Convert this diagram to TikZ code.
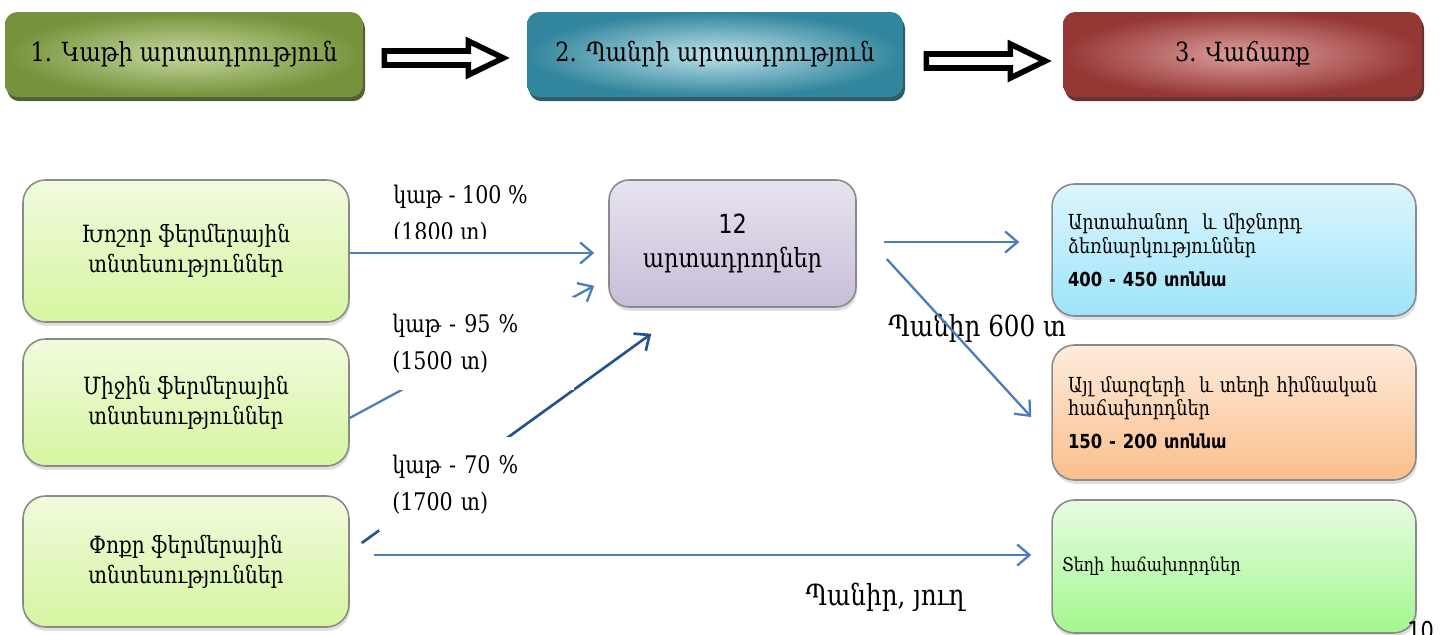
\documentclass[tikz,border=0pt]{standalone}
\usepackage{fontspec}
\setmainfont{DejaVu Serif}[FakeStretch=0.85]
\newfontfamily\armsans{DejaVu Sans}[FakeStretch=0.85]
\usetikzlibrary{arrows.meta,shadows,calc}
\definecolor{arrowblue}{HTML}{4A7EBB}
\definecolor{darkarrow}{HTML}{23528F}
\definecolor{oneout}{HTML}{76923C}
\definecolor{onein}{HTML}{C6D99D}
\definecolor{twoout}{HTML}{31859C}
\definecolor{twoin}{HTML}{BFE3EC}
\definecolor{threeout}{HTML}{953735}
\definecolor{threein}{HTML}{DE9F9D}
\definecolor{farmtop}{HTML}{F1FBDD}
\definecolor{farmbot}{HTML}{D6F5A0}
\definecolor{ctrtop}{HTML}{E7E3EE}
\definecolor{ctrbot}{HTML}{C8BDD9}
\definecolor{rbtop}{HTML}{DDF6FE}
\definecolor{rbbot}{HTML}{9DE3F9}
\definecolor{rotop}{HTML}{FDECDD}
\definecolor{robot}{HTML}{FBBE8A}
\definecolor{rgtop}{HTML}{E8FCE2}
\definecolor{rgbot}{HTML}{A2F78D}
\definecolor{boxline}{HTML}{8A8A8A}
\begin{document}
\begin{tikzpicture}[x=0.02cm,y=-0.02cm,
  topbox/.style={rounded corners=7pt, minimum height=1.7cm, shading=radial,
    inner color=#1in, outer color=#1out,
    drop shadow={shadow xshift=1.2pt,shadow yshift=-2.4pt,fill=#1out!55!black,opacity=0.9},
    font=\fontsize{15}{17}\selectfont, inner sep=0pt},
  hollowarrow/.style={draw=black, fill=white, line width=3.2pt, line join=miter},
  farmbox/.style={draw=boxline, line width=0.9pt, rounded corners=0.45cm,
    top color=farmtop, bottom color=farmbot, minimum width=6.52cm, align=center,
    font=\fontsize{13.5}{17}\selectfont,
    drop shadow={shadow xshift=0.6pt,shadow yshift=-2.2pt,opacity=0.25}},
  ctrbox/.style={draw=boxline, line width=0.9pt, rounded corners=0.4cm,
    top color=ctrtop, bottom color=ctrbot, minimum width=4.94cm, minimum height=2.54cm,
    align=center, font=\fontsize{15}{19}\selectfont,
    drop shadow={shadow xshift=0.6pt,shadow yshift=-2.2pt,opacity=0.25}},
  rbox/.style={draw=boxline, line width=0.9pt, rounded corners=0.45cm,
    minimum width=7.28cm, text width=6.64cm, align=left, inner xsep=0.32cm,
    font=\fontsize{11.8}{13.6}\selectfont,
    drop shadow={shadow xshift=0.6pt,shadow yshift=-2.2pt,opacity=0.25}},
  flow/.style={draw=arrowblue, line width=1.3pt, -{Straight Barb[length=7pt,width=12pt,line width=1.3pt]}},
  darkflow/.style={draw=darkarrow, line width=1.5pt, -{Straight Barb[length=7pt,width=12pt,line width=1.5pt]}},
  lbl/.style={font=\fontsize{13.8}{21}\selectfont, align=left, inner sep=0pt},
  bigl/.style={font=\fontsize{16.5}{19}\selectfont, inner sep=0pt}
]
\useasboundingbox (0,0) rectangle (1444,635);

% top row
\node[topbox=one, minimum width=7.16cm] (t1) at (184,54.5) {1. Կաթի արտադրություն};
\node[topbox=two, minimum width=7.52cm] (t2) at (715,54.5) {2. Պանրի արտադրություն};
\node[topbox=three, minimum width=7.18cm] (t3) at (1242.5,54.5) {3. Վաճառք};

\draw[hollowarrow] (t1.east) ++(21,-3.5) -- ++(84,0) -- ++(0,-10) -- ++(35,17) -- ++(-35,17) -- ++(0,-10) -- ++(-84,0) -- cycle;
\draw[hollowarrow] (t2.east) ++(23,-0.5) -- ++(84,0) -- ++(0,-10) -- ++(35,17) -- ++(-35,17) -- ++(0,-10) -- ++(-84,0) -- cycle;

% farm boxes
\node[farmbox, minimum height=2.84cm] (fa) at (186,251) {Խոշոր ֆերմերային\\տնտեսություններ};
\node[farmbox, minimum height=2.54cm] (fb) at (186,402.5) {Միջին ֆերմերային\\տնտեսություններ};
\node[farmbox, minimum height=2.62cm] (fc) at (186,561.5) {Փոքր ֆերմերային\\տնտեսություններ};

% centre
\node[ctrbox] (ctr) at (732.5,243.5) {{\armsans 12}\\արտադրողներ};

% right boxes
\node[rbox, top color=rbtop, bottom color=rbbot, minimum height=2.64cm] (r1) at (1234,250)
  {Արտահանող\ \ և միջնորդ\\ձեռնարկություններ\\[5pt]{\armsans\bfseries\fontsize{11}{13}\selectfont 400 - 450 տոննա}};
\node[rbox, top color=rotop, bottom color=robot, minimum height=2.7cm] (r2) at (1234,412.5)
  {Այլ մարզերի\ \ և տեղի հիմնական\\հաճախորդներ\\[5pt]{\armsans\bfseries\fontsize{11}{13}\selectfont 150 - 200 տոննա}};
\node[rbox, top color=rgtop, bottom color=rgbot, minimum height=2.66cm, inner xsep=0.2cm, text width=6.88cm,
  font=\fontsize{10.8}{13}\selectfont] (r3) at (1234,566.5) {Տեղի հաճախորդներ};

% connectors
\draw[flow] ($(fa.east)+(0,2)$) -- ($(ctr.west |- fa.east)+(-14,2)$);
\draw[flow] ([shift={(0,15.5)}]fb.east) -- ([shift={(-14,-22)}]ctr.south west);
\draw[darkflow] ([shift={(12,-18.5)}]fc.east) -- ([shift={(43,26)}]ctr.south west);
\draw[flow] ([shift={(24,-6.5)}]fc.east) -- ([shift={(-20,-11.5)}]r3.west);
\draw[flow] ([shift={(27,-1.5)}]ctr.east) -- ([shift={(-32,-8)}]r1.west);

% labels (white background hides the crossing lines)
\begin{scope}
  \clip (380,170) rectangle (600,238.5);
  \node[lbl, anchor=north west] (l1) at (393,185) {կաթ - 100 \%\\(1800 տ)};
\end{scope}
\node[lbl, fill=white, anchor=north west, minimum width=3.74cm, minimum height=1.86cm, text width=3.5cm, inner xsep=0.14cm] (l2) at (385,297) {կաթ - 95 \%\\(1500 տ)};
\node[lbl, fill=white, anchor=north west, minimum width=2.74cm, minimum height=1.88cm, text width=2.6cm, inner xsep=0.26cm] (l3) at (379,437) {կաթ - 70 \%\\(1700 տ)};

\node[bigl, anchor=west] (p600) at (888,328) {Պանիր 600 տ};
\draw[flow] ([shift={(30,15.5)}]ctr.east) -- ([shift={(-20,4.5)}]r2.west);
\node[bigl] (pj) at (885,597) {Պանիր, յուղ};

\node[anchor=north west, inner sep=0pt, font=\armsans\fontsize{14}{16}\selectfont] (pg) at (1407,621) {10};
\end{tikzpicture}
\end{document}
